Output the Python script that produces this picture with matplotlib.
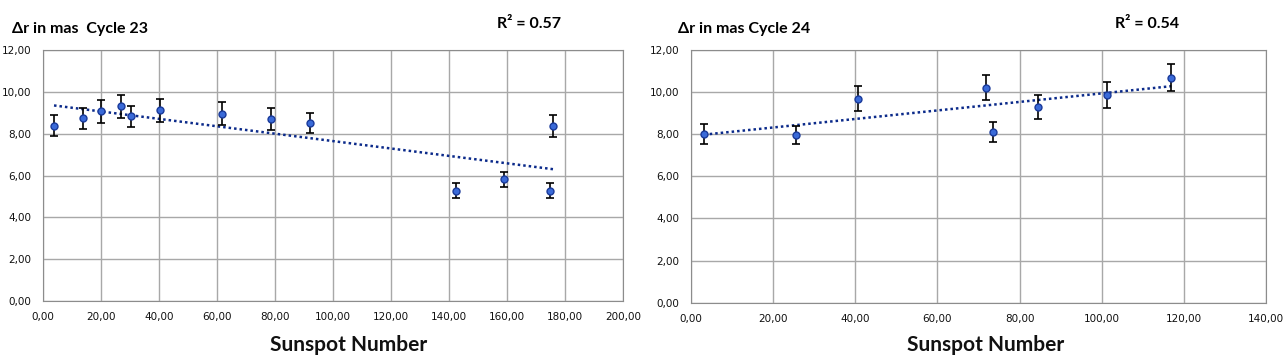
import numpy as np
import matplotlib
matplotlib.use("Agg")
import matplotlib.pyplot as plt
from matplotlib.ticker import FuncFormatter, MultipleLocator

plt.rcParams['font.family'] = ['Lato', 'DejaVu Sans']

# Cycle 23
ssn23 = [3.9, 13.8, 20.1, 27.1, 30.4, 40.5, 61.9, 78.6, 92.1, 142.3, 158.8, 174.8, 175.8]
dr23 = [8.37, 8.73, 9.08, 9.32, 8.83, 9.13, 8.96, 8.69, 8.51, 5.27, 5.82, 5.27, 8.37]
err23 = [0.50, 0.50, 0.55, 0.55, 0.50, 0.55, 0.55, 0.53, 0.50, 0.35, 0.36, 0.35, 0.53]

# Cycle 24
ssn24 = [3.3, 25.5, 40.8, 71.8, 73.6, 84.4, 101.3, 116.9]
dr24 = [7.99, 7.94, 9.68, 10.20, 8.10, 9.28, 9.85, 10.67]
err24 = [0.47, 0.43, 0.58, 0.60, 0.47, 0.55, 0.60, 0.65]

titles = ["\u0394r in mas  Cycle 23", "\u0394r in mas Cycle 24"]
r2_labels = ["R\u00b2 = 0.57", "R\u00b2 = 0.54"]
xmaxes = [200, 140]

W, H = 1287, 362
fig = plt.figure(figsize=(W / 100, H / 100), dpi=100)

comma = FuncFormatter(lambda v, p: f"{v:.2f}".replace('.', ','))


def panel(rect, x, y, e, xmax, title, r2, title_x, r2_x, xlab_x):
    ax = fig.add_axes([rect[0] / W, 1 - rect[3] / H, (rect[2] - rect[0]) / W, (rect[3] - rect[1]) / H])
    ax.errorbar(x, y, yerr=e, fmt='o', color='#3a6ad8', mec='#1a3a9a', ms=5,
                ecolor='black', elinewidth=1.2, capsize=3, capthick=1.2, zorder=3)
    k, b = np.polyfit(x, y, 1)
    xs = np.array([min(x), max(x)])
    ax.plot(xs, k * xs + b, linestyle=(0, (1, 1.2)), color='#0b2a8a', lw=1.8, zorder=2)
    ax.set_xlim(0, xmax)
    ax.set_ylim(0, 12)
    ax.xaxis.set_major_locator(MultipleLocator(20))
    ax.yaxis.set_major_locator(MultipleLocator(2))
    ax.xaxis.set_major_formatter(comma)
    ax.yaxis.set_major_formatter(comma)
    ax.tick_params(length=0, labelsize=7.5, pad=8, colors='#111111')
    for lab in ax.get_xticklabels() + ax.get_yticklabels():
        lab.set_family('DejaVu Sans')
    ax.grid(True, color='#a8a8a8', lw=1)
    ax.set_axisbelow(True)
    for s in ax.spines.values():
        s.set_color('#8c8c8c')
    fig.text(xlab_x / W, 1 - 345 / H, "Sunspot Number", fontsize=15, fontweight='bold',
             color='#111111', ha='center', va='center')
    fig.text(title_x / W, 1 - 29 / H, title, fontsize=11.5, fontweight='bold', va='center')
    fig.text(r2_x / W, 1 - 24 / H, r2, fontsize=11.5, fontweight='bold', va='center')
    return ax


panel((42.7, 50, 623.3, 301), ssn23, dr23, err23, xmaxes[0], titles[0], r2_labels[0], 12, 497, 349)
panel((690.7, 49.7, 1266.3, 302.7), ssn24, dr24, err24, xmaxes[1], titles[1], r2_labels[1], 678, 1115, 986)

fig.savefig("out.png", dpi=100)
